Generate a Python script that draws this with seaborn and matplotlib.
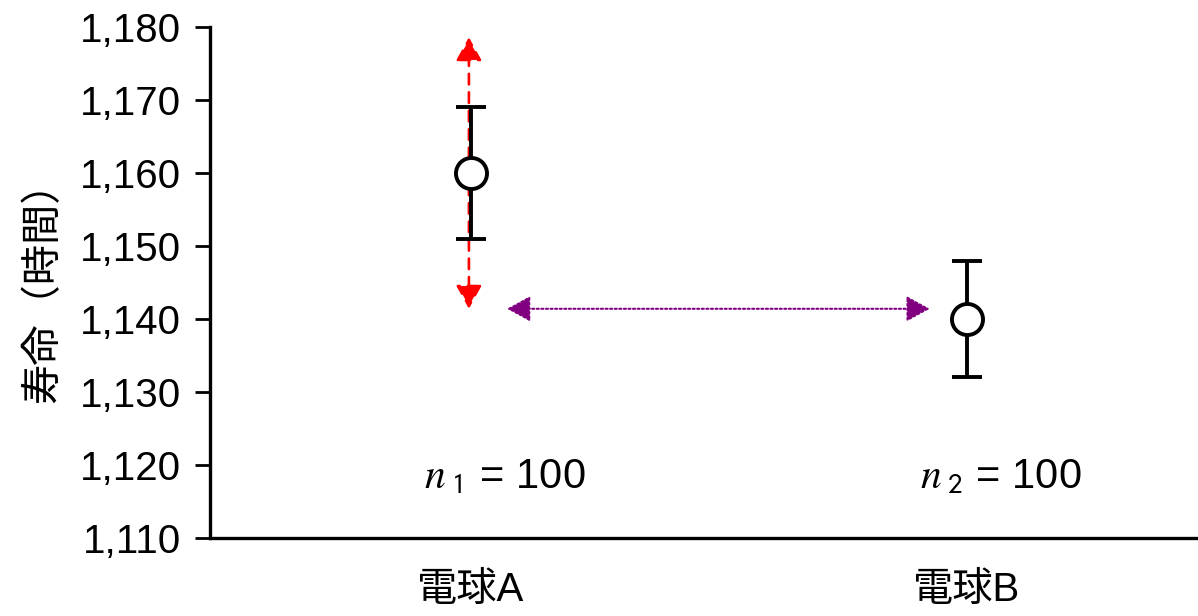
import numpy as np
import pandas as pd
import matplotlib
matplotlib.use("Agg")
import matplotlib.pyplot as plt
import seaborn as sns

# Data
bulbs = ["電球A", "電球B"]
mean_life = [1160, 1140]
err_low = [9, 8]
err_high = [9, 8]
sample_sizes = [100, 100]
sample_subs = ["1", "2"]
y_ticks = [1110, 1120, 1130, 1140, 1150, 1160, 1170, 1180]
range_arrow = [1141.4, 1178.6]   # red spread arrow around bulb A
diff_arrow_y = 1141.4            # level of the dotted comparison arrow
label_y = 1118.3                 # level of the sample size labels

sns.set_theme(style="white")
plt.rcParams["font.family"] = ["Liberation Sans", "Noto Sans CJK JP", "DejaVu Sans"]
plt.rcParams["text.color"] = "black"
plt.rcParams["axes.labelcolor"] = "black"
plt.rcParams["xtick.color"] = "black"
plt.rcParams["ytick.color"] = "black"

fig = plt.figure(figsize=(11.98, 6.16), dpi=100)
ax = fig.add_axes([210 / 1198, 1 - 538 / 616, 1 - 210 / 1198, (538 - 27) / 616])

df = pd.DataFrame({"bulb": bulbs, "life": mean_life, "pos": np.arange(len(bulbs))})

# red dashed spread arrow
ax.annotate("", xy=(-0.004, range_arrow[1]), xytext=(-0.004, range_arrow[0]),
            arrowprops=dict(arrowstyle="<|-|>,head_length=0.6,head_width=0.33", color="red",
                            lw=1.9, linestyle=(0, (4, 3)),
                            mutation_scale=24, shrinkA=0, shrinkB=0))

# error bars
ax.errorbar(df["pos"], df["life"], yerr=[err_low, err_high], fmt="none",
            ecolor="black", elinewidth=2.8, capsize=11, capthick=2.8, zorder=3)

# open circle markers
sns.scatterplot(data=df, x="pos", y="life", ax=ax, s=500, facecolor="white",
                edgecolor="black", linewidth=2.8, zorder=4, legend=False)

# dotted comparison arrow
ax.annotate("", xy=(0.925, diff_arrow_y), xytext=(0.073, diff_arrow_y),
            arrowprops=dict(arrowstyle="<|-|>,head_length=0.6,head_width=0.33", color="purple",
                            lw=1.5, linestyle=(0, (1, 1.2)),
                            mutation_scale=24, shrinkA=0, shrinkB=0))

# sample size labels
for i, (n, sub) in enumerate(zip(sample_sizes, sample_subs)):
    ax.text(i + 0.068, label_y, rf"$\mathit{{n}}_{{\ \mathsf{{{sub}}}}}$ = {n}", ha="center",
            va="center", fontsize=30, math_fontfamily="stix")

ax.set_xlim(-0.526, 1.466)
ax.set_ylim(1110, 1180)
ax.set_yticks(y_ticks)
ax.set_yticklabels([f"{v:,}" for v in y_ticks], fontsize=29)
ax.set_xticks(df["pos"])
ax.set_xticklabels(bulbs, fontsize=29)
ax.tick_params(axis="y", direction="out", length=11, width=2, left=True, pad=10)
ax.tick_params(axis="x", length=0, pad=24)
ax.set_xlabel("")
ax.set_ylabel("寿命（時間）", fontsize=29, labelpad=12)

sns.despine(ax=ax)
for side in ["left", "bottom"]:
    ax.spines[side].set_linewidth(2.4)
    ax.spines[side].set_color("black")

fig.savefig("out.png", dpi=100)
